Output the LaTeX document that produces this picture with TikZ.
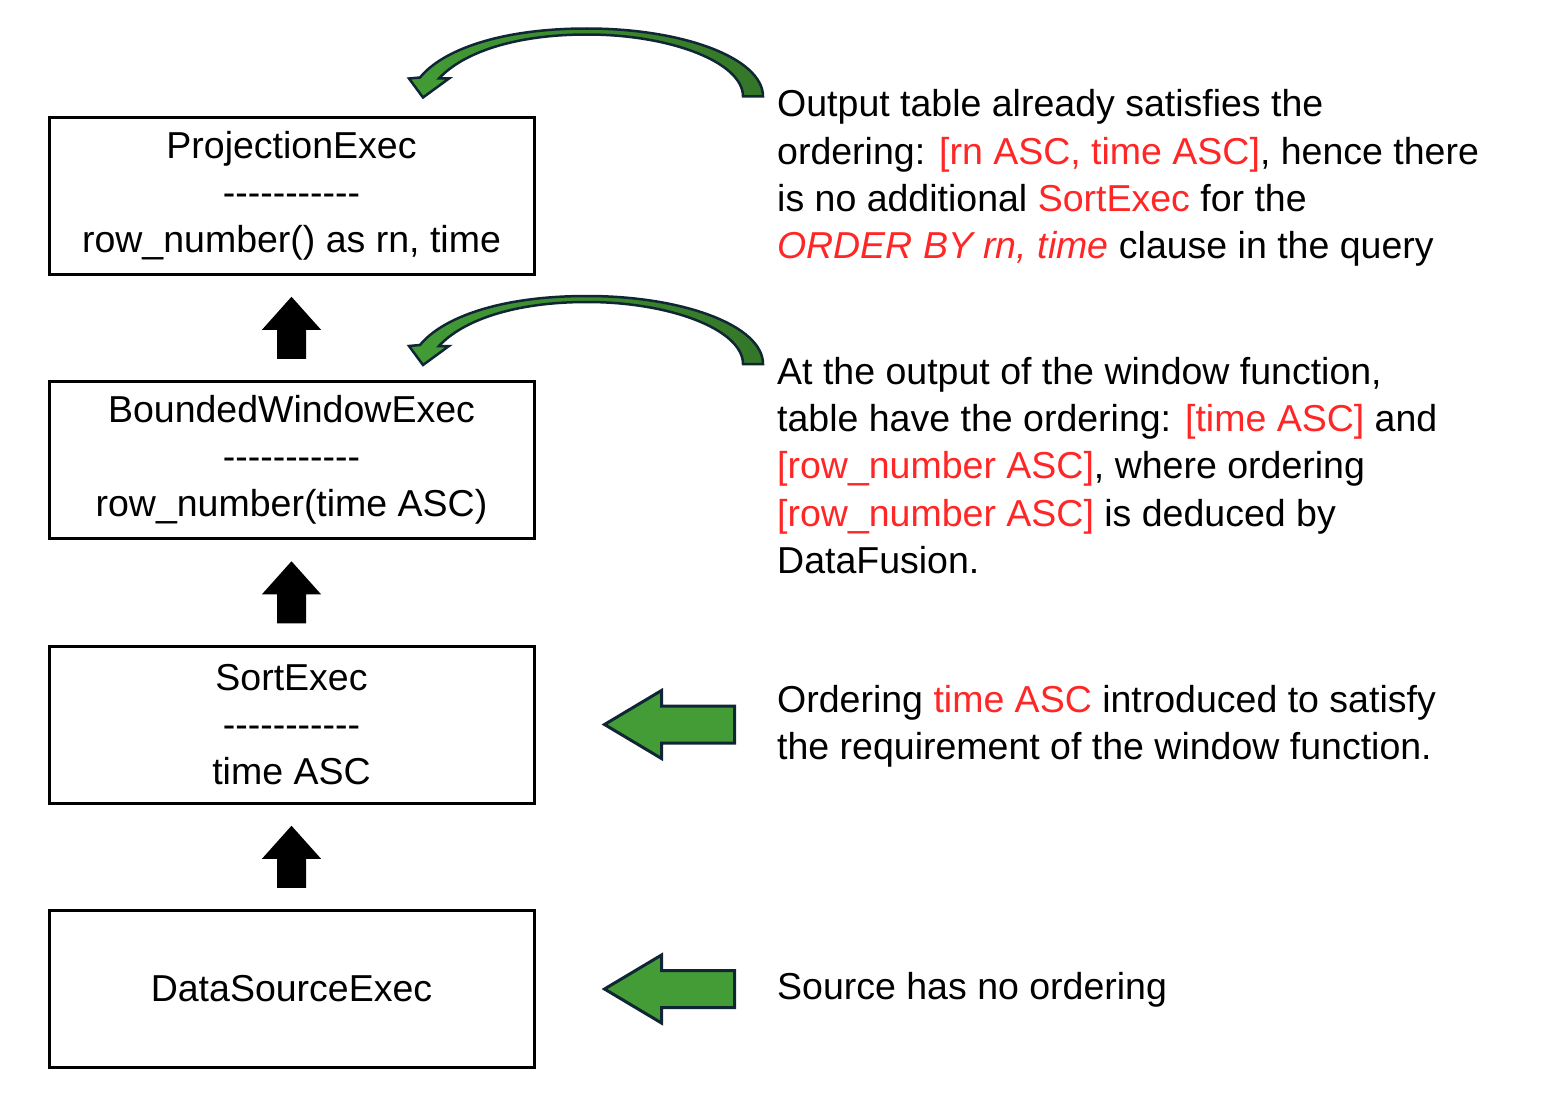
\documentclass[tikz,border=0pt]{standalone}
\usepackage{fontspec}
\setmainfont{Liberation Sans}[Ligatures=TeXOff]
\usetikzlibrary{calc}
\definecolor{redt}{RGB}{255,38,38}
\definecolor{gfill}{RGB}{67,156,54}
\definecolor{gdark}{RGB}{52,118,40}
\definecolor{gline}{RGB}{16,38,52}
\newcommand{\rd}[1]{\textcolor{redt}{#1}}
\begin{document}
\begin{tikzpicture}[x=1pt,y=1pt,
  box/.style={draw=black,line width=3pt,minimum width=485pt,minimum height=157pt,inner sep=0pt,align=center,font=\fontsize{37.5}{47}\selectfont},
  txt/.style={anchor=base west,inner sep=0pt,font=\fontsize{37.5}{47}\selectfont},
  blockup/.style={fill=black},
  garrow/.style={fill=gfill,draw=gline,line width=3pt,line join=miter},
  carrow/.style={left color=gfill,right color=gdark,draw=gline,line width=2.5pt,line join=miter},
  curvarrow/.pic={
    \path[carrow] (176,-68) .. controls (176,-30) and (97,0) .. (0,0)
      .. controls (-88,0) and (-145,-22) .. (-167,-49)
      -- (-178,-50) -- (-164,-69) -- (-138,-50) -- (-148,-50)
      .. controls (-124,-24) and (-72,-6) .. (0,-6)
      .. controls (84,-6) and (156,-34) .. (156,-68) -- cycle;
  }]
\useasboundingbox (0,0) rectangle (1559,-1116);

% boxes
\node[box] (proj) at (291.5,-195.5) {ProjectionExec\\-----------\\row\_number() as rn, time};
\node[box] (win) at (291.5,-460) {BoundedWindowExec\\-----------\\row\_number(time ASC)};
\node[box] (sort) at (291.5,-724.5) {SortExec\\-----------\\time ASC};
\node[box] (ds) at (291.5,-989) {DataSourceExec};

% black block arrows
\coordinate (m1) at ($(proj.south)!0.5!(win.north)$);
\coordinate (m2) at ($(win.south)!0.5!(sort.north)$);
\coordinate (m3) at ($(sort.south)!0.5!(ds.north)$);
\foreach \m in {m1,m2,m3}{
  \fill[blockup] ($(\m)+(0,31)$) -- ++(29.5,-33) -- ++(-15,0) -- ++(0,-29) -- ++(-29,0) -- ++(0,29) -- ++(-15,0) -- cycle;
}

% green straight arrows
\draw[garrow] ($(sort.east)+(69,0)$) -- ++(57,34) -- ++(0,-15.5) -- ++(73,0) -- ++(0,-37) -- ++(-73,0) -- ++(0,-15.5) -- cycle;
\draw[garrow] ($(ds.east)+(69,0)$) -- ++(57,34) -- ++(0,-15.5) -- ++(73,0) -- ++(0,-37) -- ++(-73,0) -- ++(0,-15.5) -- cycle;

% green curved arrows
\pic at ($(proj.north)+(295.5,87)$) {curvarrow};
\pic at ($(win.north)+(295.5,84)$) {curvarrow};

% texts
\node[txt] (t1a) at (777,-117) {Output table already satisfies the};
\node[txt] (t1b) at (777,-164) {ordering: \rd{[rn ASC, time ASC]}, hence there};
\node[txt] (t1c) at (777,-211) {is no additional \rd{SortExec} for the};
\node[txt] (t1d) at (777,-258) {\rd{\itshape ORDER BY rn, time} clause in the query};

\node[txt] (t2a) at (777,-384) {At the output of the window function,};
\node[txt] (t2b) at (777,-431) {table have the ordering: \rd{[time ASC]} and};
\node[txt] (t2c) at (777,-478) {\rd{[row\_number ASC]}, where ordering};
\node[txt] (t2d) at (777,-526) {\rd{[row\_number ASC]} is deduced by};
\node[txt] (t2e) at (777,-573) {DataFusion.};

\node[txt] (t3a) at (777,-712) {Ordering \rd{time ASC} introduced to satisfy};
\node[txt] (t3b) at (777,-759) {the requirement of the window function.};

\node[txt] (t4a) at (777,-999) {Source has no ordering};
\end{tikzpicture}
\end{document}
